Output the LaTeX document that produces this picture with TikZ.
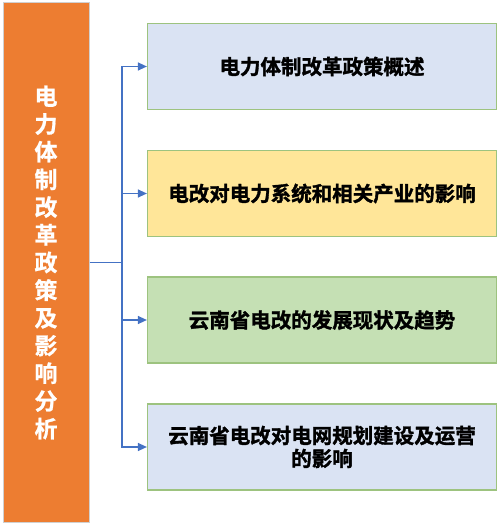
\documentclass[tikz,border=0pt]{standalone}
\usepackage{fontspec}
\newfontfamily\cjkbold[FakeBold=1.6]{Noto Sans CJK SC Bold}
\newfontfamily\cjkside[FakeBold=0.8]{Noto Sans CJK SC Bold}
\usepackage{tikz}
\usetikzlibrary{arrows.meta,positioning}
\definecolor{orangebox}{HTML}{ED7D31}
\definecolor{edgegray}{HTML}{D0D0D0}
\definecolor{edgegreen}{HTML}{9DC37F}
\definecolor{fillblue}{HTML}{DAE3F3}
\definecolor{fillyellow}{HTML}{FFE699}
\definecolor{fillgreen}{HTML}{C5E0B4}
\definecolor{linkblue}{HTML}{4472C4}

\begin{document}
\begin{tikzpicture}[x=1pt,y=-1pt,>={Triangle[length=9pt,width=8pt]},
  topic/.style={draw=edgegray,line width=1pt,fill=orangebox,text=white,minimum width=86pt,minimum height=519pt,align=center,font=\cjkside\fontsize{23pt}{27.7pt}\selectfont},
  item/.style={draw=edgegreen,line width=1.2pt,minimum width=349pt,minimum height=86pt,align=center,font=\cjkbold\fontsize{20.5pt}{23pt}\selectfont}]
\useasboundingbox (0,0) rectangle (500,526);
\node[topic] (main) at (46,262.5) {电\\力\\体\\制\\改\\革\\政\\策\\及\\影\\响\\分\\析};
\node[item,fill=fillblue] (b1) at (322,66.5) {电力体制改革政策概述};
\node[item,fill=fillyellow] (b2) at (322,193.5) {电改对电力系统和相关产业的影响};
\node[item,fill=fillgreen] (b3) at (322,320) {云南省电改的发展现状及趋势};
\node[item,fill=fillblue] (b4) at (322,447) {云南省电改对电网规划建设及运营\\的影响};
\coordinate (hub) at (122,262.5);
\draw[linkblue,line width=1.3pt] (main.east) -- (hub);
\foreach \b in {b1,b2,b3,b4}
  \draw[->,linkblue,line width=1.3pt] (hub) |- (\b.west);
\end{tikzpicture}
\end{document}
